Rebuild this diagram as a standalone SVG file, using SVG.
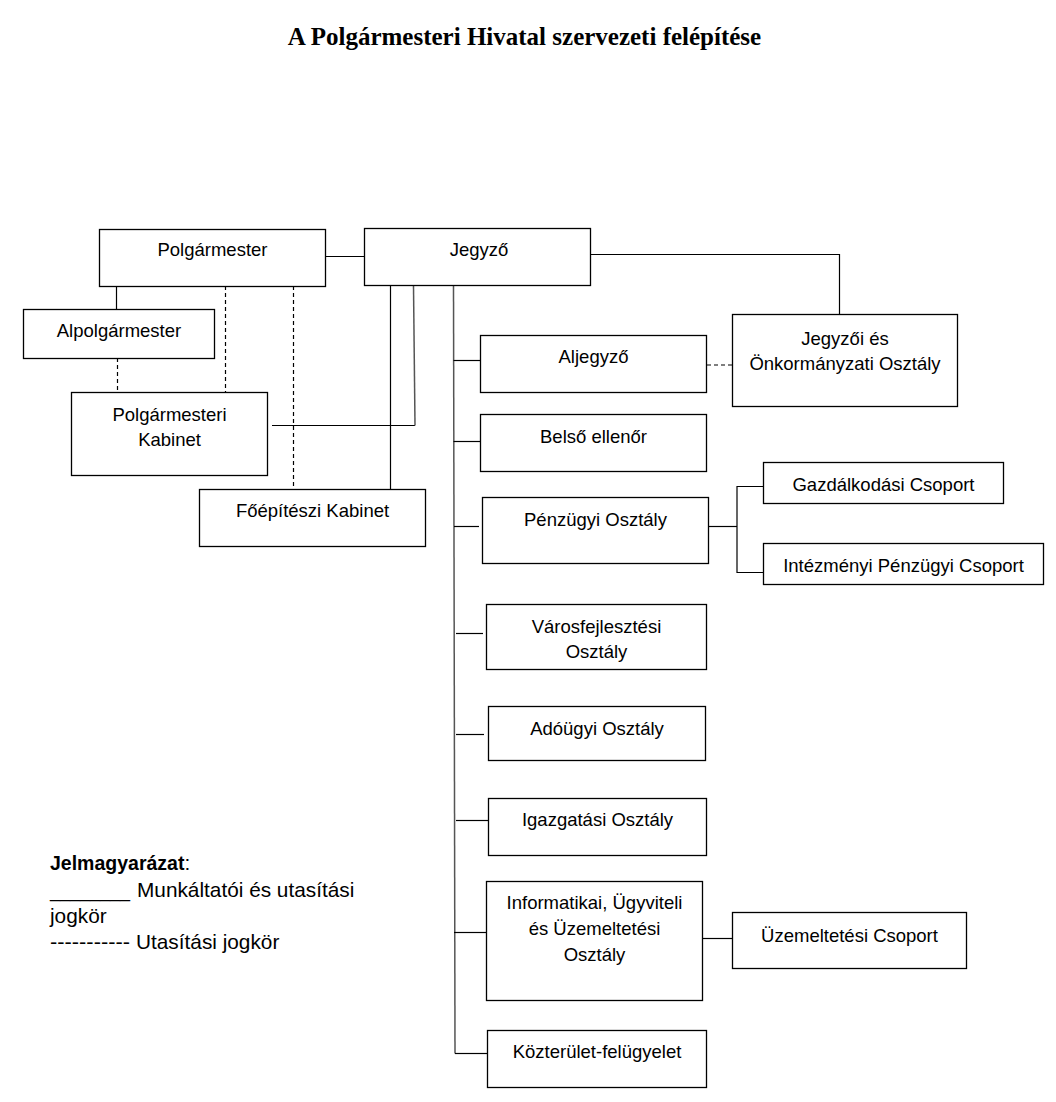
<svg xmlns="http://www.w3.org/2000/svg" width="1056" height="1102" viewBox="0 0 1056 1102">
<style>
.box{fill:#fff;stroke:#000;stroke-width:1.3}
.t{font-family:"Liberation Sans",Arial,sans-serif;font-size:18.5px;fill:#000;text-anchor:middle}
.lg{font-family:"Liberation Sans",Arial,sans-serif;font-size:20.8px;fill:#000}
.title{font-family:"Liberation Serif","Times New Roman",serif;font-size:25px;font-weight:bold;fill:#000;text-anchor:middle}
.c{fill:none;stroke:#000;stroke-width:1.2}
.g{fill:none;stroke:#555;stroke-width:1.5}
.d{fill:none;stroke:#000;stroke-width:1.2;stroke-dasharray:4 3}
</style>
<rect width="1056" height="1102" fill="#fff"/>
<text class="title" x="524.5" y="45">A Polgármesteri Hivatal szervezeti felépítése</text>

<g id="connectors">
<path class="c" d="M325 256.5H364"/>
<path class="c" d="M116.5 286V309"/>
<path class="d" d="M117.5 358V392"/>
<path class="d" d="M225.5 286V392"/>
<path class="d" d="M293.5 286V489"/>
<path class="c" d="M272 425.5H415"/>
<path class="g" d="M415 425.5L413.5 286"/>
<path class="c" d="M390.5 285V489"/>
<path class="c" d="M591 254.5H839.5V314"/>
<path class="g" d="M453.5 285L455 1053.5"/>
<path class="c" d="M455 1053.5H487"/>
<path class="c" d="M453.5 360.5H480"/>
<path class="c" d="M453.5 441.5H481"/>
<path class="c" d="M454 526.5H479"/>
<path class="c" d="M456 633.5H483"/>
<path class="c" d="M456 734.5H484"/>
<path class="c" d="M456 820.5H488"/>
<path class="c" d="M454 932.5H486"/>
<path class="d" d="M707 365H732"/>
<path class="c" d="M708 526.5H737"/>
<path class="c" d="M763 486.5H737V572.5H763"/>
<path class="c" d="M702.5 938.5H732"/>
</g>

<g id="polgarmester"><rect class="box" x="99.5" y="229.5" width="226" height="57"/><text class="t" x="212.5" y="256">Polgármester</text></g>
<g id="jegyzo"><rect class="box" x="364.5" y="228.5" width="226" height="57"/><text class="t" x="479" y="256">Jegyző</text></g>
<g id="alpolgarmester"><rect class="box" x="23.5" y="309.5" width="191" height="49"/><text class="t" x="119" y="337">Alpolgármester</text></g>
<g id="polgarmesteri-kabinet"><rect class="box" x="71.5" y="392.5" width="196" height="83"/><text class="t" x="169.5" y="420.5">Polgármesteri</text><text class="t" x="169.5" y="446">Kabinet</text></g>
<g id="foepiteszi-kabinet"><rect class="box" x="199.5" y="489.5" width="226" height="57"/><text class="t" x="312.5" y="517">Főépítészi Kabinet</text></g>
<g id="jegyzoi-osztaly"><rect class="box" x="732.5" y="314.5" width="225" height="92"/><text class="t" x="845" y="345">Jegyzői és</text><text class="t" x="845" y="369.5">Önkormányzati Osztály</text></g>
<g id="aljegyzo"><rect class="box" x="480.5" y="335.5" width="226" height="57"/><text class="t" x="593.5" y="363">Aljegyző</text></g>
<g id="belso-ellenor"><rect class="box" x="480.5" y="414.5" width="226" height="57"/><text class="t" x="593.5" y="443">Belső ellenőr</text></g>
<g id="penzugyi-osztaly"><rect class="box" x="482.5" y="497.5" width="226" height="66"/><text class="t" x="595.5" y="526">Pénzügyi Osztály</text></g>
<g id="gazdalkodasi-csoport"><rect class="box" x="763.5" y="462.5" width="240" height="41"/><text class="t" x="883.5" y="491">Gazdálkodási Csoport</text></g>
<g id="intezmenyi-csoport"><rect class="box" x="763.5" y="543.5" width="280" height="41"/><text class="t" x="903.5" y="572">Intézményi Pénzügyi Csoport</text></g>
<g id="varosfejlesztesi-osztaly"><rect class="box" x="486.5" y="604.5" width="220" height="65"/><text class="t" x="596.5" y="633">Városfejlesztési</text><text class="t" x="596.5" y="658">Osztály</text></g>
<g id="adougyi-osztaly"><rect class="box" x="488.5" y="706.5" width="217" height="54"/><text class="t" x="597" y="735">Adóügyi Osztály</text></g>
<g id="igazgatasi-osztaly"><rect class="box" x="488.5" y="798.5" width="218" height="57"/><text class="t" x="597.5" y="826">Igazgatási Osztály</text></g>
<g id="informatikai-osztaly"><rect class="box" x="486.5" y="881.5" width="216" height="119"/><text class="t" x="594.5" y="909">Informatikai, Ügyviteli</text><text class="t" x="594.5" y="935">és Üzemeltetési</text><text class="t" x="594.5" y="960.5">Osztály</text></g>
<g id="uzemeltetesi-csoport"><rect class="box" x="732.5" y="912.5" width="234" height="56"/><text class="t" x="849.5" y="941.5">Üzemeltetési Csoport</text></g>
<g id="kozterulet-felugyelet"><rect class="box" x="487.5" y="1030.5" width="219" height="57"/><text class="t" x="597" y="1058">Közterület-felügyelet</text></g>

<g id="legend">
<text class="lg" x="50" y="870"><tspan font-weight="bold" font-size="19.5px">Jelmagyarázat</tspan>:</text>
<text class="lg" x="50" y="897"><tspan textLength="80" lengthAdjust="spacingAndGlyphs">________</tspan></text>
<text class="lg" x="137" y="897">Munkáltatói és utasítási</text>
<text class="lg" x="50" y="923">jogkör</text>
<text class="lg" x="50" y="949"><tspan textLength="80" lengthAdjust="spacingAndGlyphs">-----------</tspan></text>
<text class="lg" x="136" y="949">Utasítási jogkör</text>
</g>
</svg>
